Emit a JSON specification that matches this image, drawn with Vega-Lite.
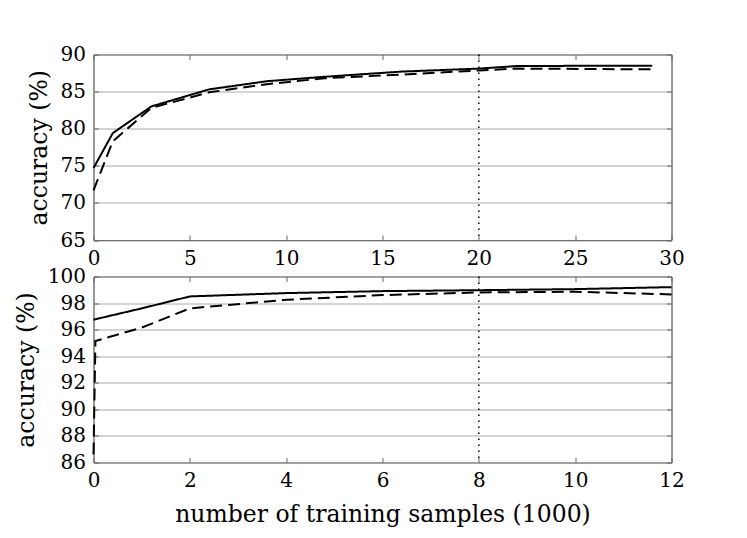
{
  "$schema": "https://vega.github.io/schema/vega-lite/v6.json",
  "padding": {"left": 13.5, "top": 43.5, "right": 10, "bottom": 10},
  "bounds": "flush",
  "spacing": 36,
  "config": {
    "font": "DejaVu Serif",
    "view": {"stroke": "#333", "strokeWidth": 1},
    "axis": {
      "labelFont": "DejaVu Serif",
      "labelFontSize": 20,
      "labelColor": "black",
      "titleFont": "DejaVu Serif",
      "titleFontSize": 23.5,
      "titleFontWeight": "normal",
      "titleColor": "black",
      "domain": false,
      "tickSize": -5,
      "tickColor": "#666",
      "labelPadding": 13,
      "labelFlush": false,
      "labelOverlap": false,
      "labelBound": false,
      "gridColor": "#aaa",
      "gridWidth": 1
    }
  },
  "datasets": {
    "top": [
      {"x": 0, "acc": 74.7, "series": "solid"},
      {"x": 1, "acc": 79.4, "series": "solid"},
      {"x": 3, "acc": 83.0, "series": "solid"},
      {"x": 6, "acc": 85.3, "series": "solid"},
      {"x": 9, "acc": 86.4, "series": "solid"},
      {"x": 12, "acc": 87.0, "series": "solid"},
      {"x": 16, "acc": 87.7, "series": "solid"},
      {"x": 20, "acc": 88.1, "series": "solid"},
      {"x": 22, "acc": 88.45, "series": "solid"},
      {"x": 29, "acc": 88.5, "series": "solid"},
      {"x": 0, "acc": 71.7, "series": "dashed"},
      {"x": 1, "acc": 78.3, "series": "dashed"},
      {"x": 3, "acc": 82.8, "series": "dashed"},
      {"x": 6, "acc": 84.9, "series": "dashed"},
      {"x": 9, "acc": 86.0, "series": "dashed"},
      {"x": 12, "acc": 86.8, "series": "dashed"},
      {"x": 16, "acc": 87.3, "series": "dashed"},
      {"x": 20, "acc": 87.85, "series": "dashed"},
      {"x": 22, "acc": 88.1, "series": "dashed"},
      {"x": 29, "acc": 88.0, "series": "dashed"}
    ],
    "bottom": [
      {"x": 0, "acc": 96.75, "series": "solid"},
      {"x": 1, "acc": 97.6, "series": "solid"},
      {"x": 2, "acc": 98.5, "series": "solid"},
      {"x": 4, "acc": 98.75, "series": "solid"},
      {"x": 6, "acc": 98.9, "series": "solid"},
      {"x": 8, "acc": 98.97, "series": "solid"},
      {"x": 10, "acc": 99.05, "series": "solid"},
      {"x": 12, "acc": 99.2, "series": "solid"},
      {"x": 0, "acc": 86.6, "series": "dashed"},
      {"x": 0.04, "acc": 95.15, "series": "dashed"},
      {"x": 1, "acc": 96.15, "series": "dashed"},
      {"x": 2, "acc": 97.6, "series": "dashed"},
      {"x": 4, "acc": 98.25, "series": "dashed"},
      {"x": 6, "acc": 98.6, "series": "dashed"},
      {"x": 8, "acc": 98.8, "series": "dashed"},
      {"x": 10, "acc": 98.85, "series": "dashed"},
      {"x": 12, "acc": 98.65, "series": "dashed"}
    ],
    "cut_top": [{"x": 20}],
    "cut_bottom": [{"x": 8}]
  },
  "vconcat": [
    {
      "width": 578,
      "height": 185.5,
      "layer": [
        {
          "data": {"name": "top"},
          "mark": {"type": "line", "color": "black", "strokeWidth": 2},
          "encoding": {
            "x": {
              "field": "x", "type": "quantitative",
              "scale": {"domain": [0, 30], "nice": false},
              "axis": {"orient": "bottom", "values": [0, 5, 10, 15, 20, 25, 30], "title": null, "grid": false, "labelOverlap": false, "labelBound": false, "zindex": 2}
            },
            "y": {
              "field": "acc", "type": "quantitative",
              "scale": {"domain": [65, 90], "nice": false, "zero": false},
              "axis": {"orient": "left", "values": [65, 70, 75, 80, 85, 90], "title": "accuracy (%)", "titlePadding": 9, "grid": true}
            },
            "strokeDash": {
              "field": "series", "type": "nominal",
              "scale": {"domain": ["solid", "dashed"], "range": [[1, 0], [12, 6]]},
              "legend": null
            }
          }
        },
        {
          "data": {"name": "cut_top"},
          "mark": {"type": "rule", "color": "black", "strokeWidth": 1.5, "strokeDash": [1.5, 4.5]},
          "encoding": {
            "x": {"field": "x", "type": "quantitative", "axis": null}
          }
        },
        {
          "data": {"name": "top"},
          "mark": {"type": "point", "opacity": 0},
          "encoding": {
            "x": {
              "field": "x", "type": "quantitative",
              "axis": {"orient": "top", "values": [0, 5, 10, 15, 20, 25, 30], "labels": false, "title": null, "grid": false}
            },
            "y": {
              "field": "acc", "type": "quantitative",
              "axis": {"orient": "right", "values": [65, 70, 75, 80, 85, 90], "labels": false, "title": null, "grid": false}
            }
          }
        }
      ]
    },
    {
      "width": 578,
      "height": 186,
      "layer": [
        {
          "data": {"name": "bottom"},
          "mark": {"type": "line", "color": "black", "strokeWidth": 2},
          "encoding": {
            "x": {
              "field": "x", "type": "quantitative",
              "scale": {"domain": [0, 12], "nice": false},
              "axis": {"orient": "bottom", "values": [0, 2, 4, 6, 8, 10, 12], "title": "number of training samples (1000)", "titlePadding": 12, "grid": false}
            },
            "y": {
              "field": "acc", "type": "quantitative",
              "scale": {"domain": [86, 100], "nice": false, "zero": false},
              "axis": {"orient": "left", "values": [86, 88, 90, 92, 94, 96, 98, 100], "title": "accuracy (%)", "titlePadding": 9, "grid": true}
            },
            "strokeDash": {
              "field": "series", "type": "nominal",
              "scale": {"domain": ["solid", "dashed"], "range": [[1, 0], [12, 6]]},
              "legend": null
            }
          }
        },
        {
          "data": {"name": "cut_bottom"},
          "mark": {"type": "rule", "color": "black", "strokeWidth": 1.5, "strokeDash": [1.5, 4.5]},
          "encoding": {
            "x": {"field": "x", "type": "quantitative", "axis": null}
          }
        },
        {
          "data": {"name": "bottom"},
          "mark": {"type": "point", "opacity": 0},
          "encoding": {
            "x": {
              "field": "x", "type": "quantitative",
              "axis": {"orient": "top", "values": [0, 2, 4, 6, 8, 10, 12], "labels": false, "title": null, "grid": false}
            },
            "y": {
              "field": "acc", "type": "quantitative",
              "axis": {"orient": "right", "values": [86, 88, 90, 92, 94, 96, 98, 100], "labels": false, "title": null, "grid": false}
            }
          }
        }
      ]
    }
  ]
}
